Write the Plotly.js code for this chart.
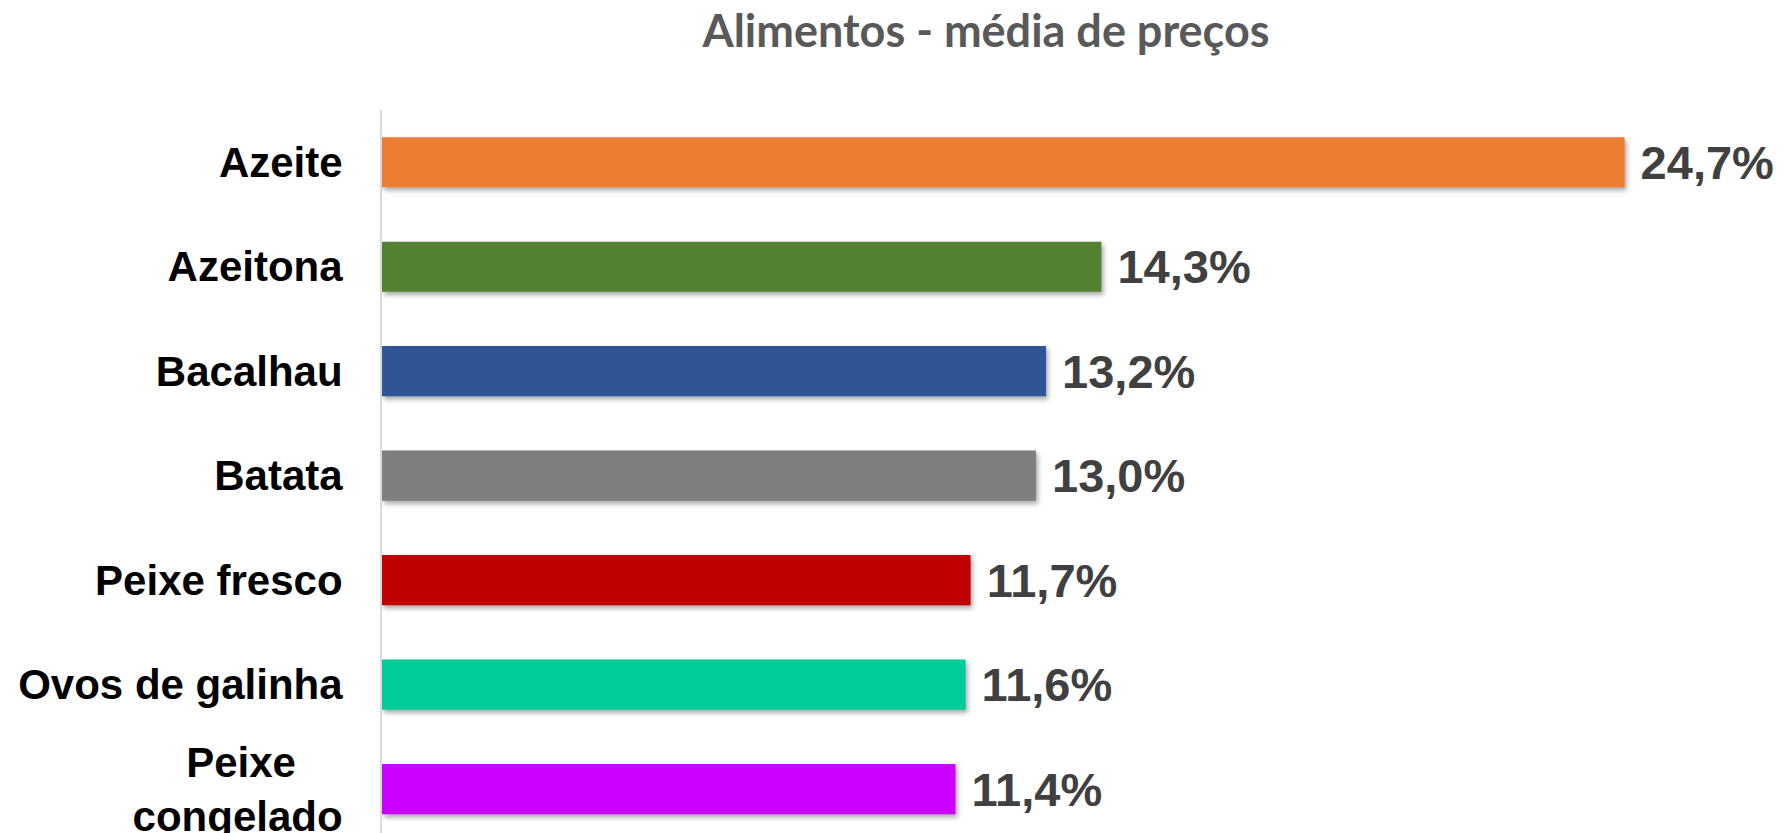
<!DOCTYPE html>
<html>
<head>
<meta charset="utf-8">
<script src="https://cdn.plot.ly/plotly-3.0.1.min.js"></script>
<style>
  html, body { margin: 0; padding: 0; background: #ffffff; }
  #chart { width: 1783px; height: 833px; }
  #chart .bars .point path { filter: drop-shadow(2px 3px 2.5px rgba(0,0,0,0.35)); }
</style>
</head>
<body>
<div id="chart"></div>
<script>
// ---- data ----
const categories = ["Azeite", "Azeitona", "Bacalhau", "Batata", "Peixe fresco", "Ovos de galinha", "Peixe\u00a0\u00a0\u00a0\u00a0<br>congelado"];
const values = [24.7, 14.3, 13.2, 13.0, 11.7, 11.6, 11.4];
const labels = ["24,7%", "14,3%", "13,2%", "13,0%", "11,7%", "11,6%", "11,4%"];
const barColors = ["#ED7D31", "#548235", "#2F5597", "#7F7F7F", "#C00000", "#00CC99", "#CC00FF"];

const trace = {
  type: "bar",
  orientation: "h",
  y: categories,
  x: values,
  text: labels.map(t => "\u00a0" + t),
  textposition: "outside",
  constraintext: "none",
  cliponaxis: false,
  textfont: { family: "Liberation Sans, Arial, sans-serif", size: 47, color: "#404040", weight: "bold" },
  marker: { color: barColors, line: { width: 0 } },
  width: 0.48,
  hoverinfo: "none"
};

const layout = {
  width: 1783,
  height: 833,
  paper_bgcolor: "#ffffff",
  plot_bgcolor: "#ffffff",
  margin: { l: 382, r: 0, t: 110, b: 0, pad: 0 },
  showlegend: false,
  title: {
    text: "<b>Alimentos - média de preços</b>",
    font: { family: "Lato, Open Sans, sans-serif", size: 45, color: "#595959" },
    xref: "container", yref: "container",
    x: 0.553, xanchor: "center",
    y: 0.962, yanchor: "middle"
  },
  xaxis: {
    range: [0, 27.85],
    showticklabels: false,
    showgrid: false,
    zeroline: false,
    showline: false,
    ticks: ""
  },
  yaxis: {
    type: "category",
    range: [6.42, -0.5],
    showgrid: false,
    zeroline: false,
    showline: true,
    linecolor: "#d9d9d9",
    linewidth: 2,
    ticks: "",
    ticklabelstandoff: 29,
    tickfont: { family: "Liberation Sans, Arial, sans-serif", size: 42, color: "#000000", weight: "bold" }
  }
};

Plotly.newPlot("chart", [trace], layout, { displayModeBar: false, staticPlot: true });
</script>
</body>
</html>
